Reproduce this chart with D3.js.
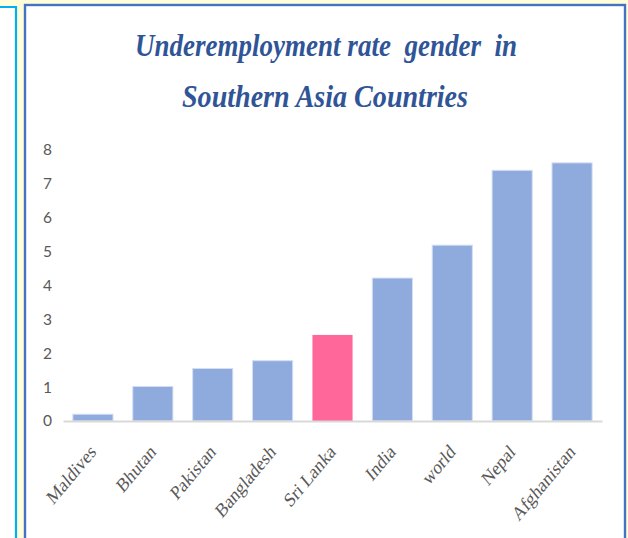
<!DOCTYPE html>
<html>
<head>
<meta charset="utf-8">
<script src="https://cdn.jsdelivr.net/npm/d3@7"></script>
<style>
  html, body { margin: 0; padding: 0; background: #ffffff; }
  svg { display: block; }
  .title text { white-space: pre; }
</style>
</head>
<body>
<div id="chart"></div>
<script>
// Underemployment rate by country, Southern Asia
const countries = ["Maldives", "Bhutan", "Pakistan", "Bangladesh", "Sri Lanka", "India", "world", "Nepal", "Afghanistan"];
const rates = [0.2, 1.02, 1.55, 1.78, 2.54, 4.22, 5.19, 7.4, 7.62];
const yTicks = [0, 1, 2, 3, 4, 5, 6, 7, 8];
const titleLines = ["Underemployment rate  gender  in", "Southern Asia Countries"];
const highlighted = "Sri Lanka";

const W = 628, H = 538;
const svg = d3.select("#chart").append("svg")
  .attr("width", W).attr("height", H);

// page background and frames
svg.append("rect").attr("x", 0).attr("y", 0).attr("width", W).attr("height", H)
  .attr("fill", "#fffed8");
svg.append("rect").attr("x", 0).attr("y", 8).attr("width", 15).attr("height", H)
  .attr("fill", "#ffffff");
svg.append("path")
  .attr("d", "M0,7 H16 V" + H)
  .attr("fill", "none").attr("stroke", "#00b0f0").attr("stroke-width", 2.2);
svg.append("rect").attr("x", 25).attr("y", 5).attr("width", 600).attr("height", H + 20)
  .attr("fill", "#ffffff").attr("stroke", "#4472c4").attr("stroke-width", 2.4);

// title (two centred lines, glyphs slightly condensed)
const title = svg.append("g").attr("class", "title");
title.append("text").text(titleLines[0])
  .attr("x", 135).attr("y", 56)
  .attr("textLength", 382).attr("lengthAdjust", "spacingAndGlyphs");
title.append("text").text(titleLines[1])
  .attr("x", 182).attr("y", 107)
  .attr("textLength", 286).attr("lengthAdjust", "spacingAndGlyphs");
title.selectAll("text")
  .attr("font-family", "'Liberation Serif', 'Times New Roman', serif")
  .attr("font-size", 31).attr("font-weight", "bold").attr("font-style", "italic")
  .attr("fill", "#2f5597");

// scales
const x = d3.scaleBand().domain(countries).range([63, 602]).paddingInner(0.33).paddingOuter(0.165);
const y = d3.scaleLinear().domain([0, 8]).range([421, 150]);

// y axis labels
const yAxis = svg.append("g").attr("transform", "translate(52,0)")
  .call(d3.axisLeft(y).tickValues(yTicks).tickSize(0).tickPadding(0).tickFormat(d3.format("d")));
yAxis.select(".domain").remove();
yAxis.selectAll("text")
  .attr("font-family", "Lato, 'Open Sans', sans-serif")
  .attr("font-size", 15.5).attr("fill", "#595959");

// bars
svg.append("g").selectAll("rect").data(countries).join("rect")
  .attr("x", d => x(d))
  .attr("width", x.bandwidth())
  .attr("y", (d, i) => y(rates[i]))
  .attr("height", (d, i) => y(0) - y(rates[i]))
  .attr("fill", d => d === highlighted ? "#ff6699" : "#8faadc")
  .attr("stroke", d => d === highlighted ? "none" : "#d3def3")
  .attr("stroke-width", 1);

// x axis baseline and rotated category labels
const xAxis = svg.append("g").attr("transform", "translate(0,421)")
  .call(d3.axisBottom(x).tickSize(0).tickPadding(0));
xAxis.select(".domain").attr("stroke", "#d9d9d9").attr("stroke-width", 2.2);
xAxis.selectAll("text")
  .attr("font-family", "'Liberation Serif', 'Times New Roman', serif")
  .attr("font-size", 20).attr("fill", "#595959")
  .attr("text-anchor", "end")
  .attr("y", 0).attr("dy", null)
  .attr("transform", "translate(4,32) scale(0.83,1) rotate(-45)");
</script>
</body>
</html>
